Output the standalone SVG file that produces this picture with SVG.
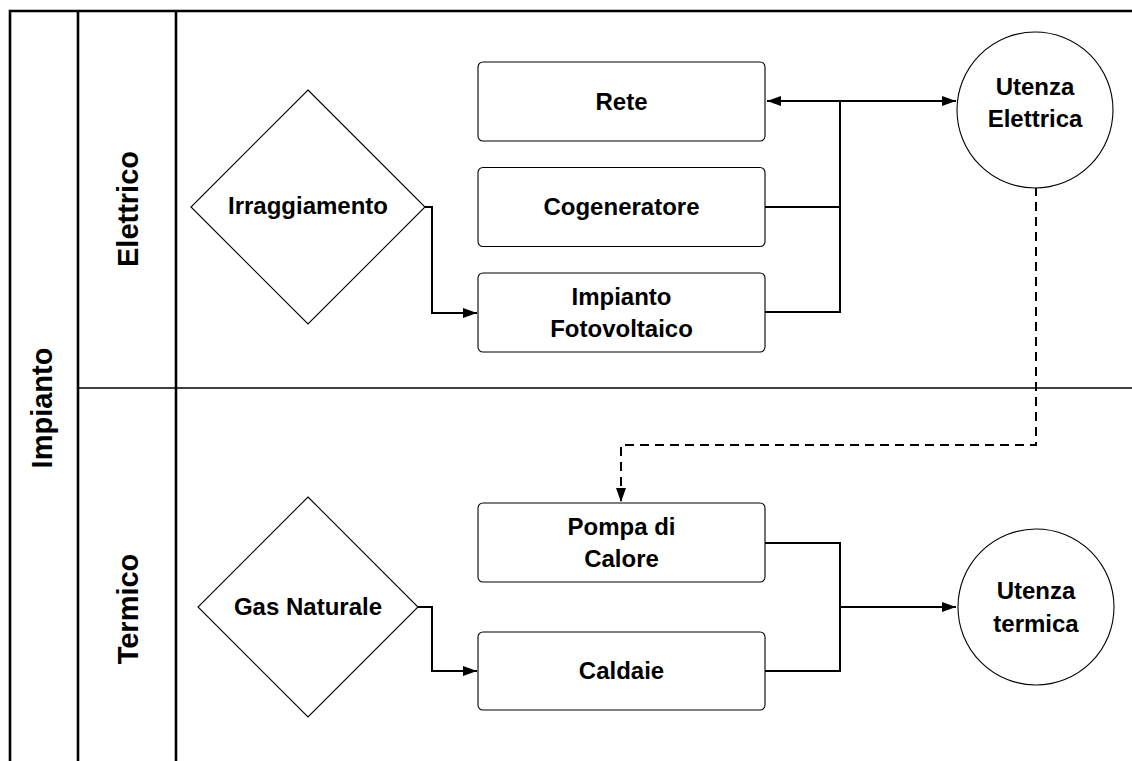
<svg xmlns="http://www.w3.org/2000/svg" width="1132" height="761" viewBox="0 0 1132 761">
<style>
.frame{fill:none;stroke:#000;stroke-width:2.6}
.div{fill:none;stroke:#000;stroke-width:1.6}
.box{fill:#fff;stroke:#000;stroke-width:1.1}
.conn{fill:none;stroke:#000;stroke-width:2}
.dash{fill:none;stroke:#000;stroke-width:2;stroke-dasharray:9,6}
.t{font-family:"Liberation Sans",Arial,sans-serif;font-weight:bold;font-size:24px;fill:#000;text-anchor:middle}
.lane{font-family:"Liberation Sans",Arial,sans-serif;font-weight:bold;font-size:29px;fill:#000;text-anchor:middle}
</style>
<defs>
<marker id="ah" viewBox="0 0 14 10" refX="14" refY="5" markerWidth="14" markerHeight="10" markerUnits="userSpaceOnUse" orient="auto-start-reverse">
<path d="M0,0 L14,5 L0,10 Z" fill="#000"/>
</marker>
</defs>
<rect width="1132" height="761" fill="#fff"/>
<g id="lanes">
<path class="frame" d="M10,761 V11 H1132 M78,11 V761 M176,11 V761"/>
<path class="div" d="M78,388 H1132"/>
<text class="lane" transform="translate(52,408) rotate(-90)">Impianto</text>
<text class="lane" transform="translate(138,209) rotate(-90)">Elettrico</text>
<text class="lane" transform="translate(138,609) rotate(-90)">Termico</text>
</g>
<g id="connectors">
<path class="conn" d="M840,101 H767" marker-end="url(#ah)"/>
<path class="conn" d="M840,101 H956" marker-end="url(#ah)"/>
<path class="conn" d="M765,207 H840 M765,312 H840 M840,101 V313"/>
<path class="conn" d="M425,207 H432 V313 H477" marker-end="url(#ah)"/>
<path class="conn" d="M417,607 H432 V671 H477" marker-end="url(#ah)"/>
<path class="conn" d="M765,543 H840 M765,671 H840 M840,542 V672"/>
<path class="conn" d="M840,607 H956" marker-end="url(#ah)"/>
<path class="dash" d="M1036,187 V445 H621 V502" marker-end="url(#ah)"/>
</g>
<g id="rete"><rect class="box" x="478" y="62" width="287" height="79" rx="5"/><text class="t" x="621.5" y="110">Rete</text></g>
<g id="cogeneratore"><rect class="box" x="478" y="167.5" width="287" height="79" rx="5"/><text class="t" x="621.5" y="215">Cogeneratore</text></g>
<g id="fotovoltaico"><rect class="box" x="478" y="273" width="287" height="79" rx="5"/><text class="t" x="621.5" y="305">Impianto</text><text class="t" x="621.5" y="337">Fotovoltaico</text></g>
<g id="irraggiamento"><path class="box" d="M308,90 L425,207 L308,324 L191,207 Z"/><text class="t" x="308" y="214">Irraggiamento</text></g>
<g id="utenza-elettrica"><circle class="box" cx="1035" cy="110" r="78"/><text class="t" x="1035" y="95">Utenza</text><text class="t" x="1035" y="127">Elettrica</text></g>
<g id="pompa"><rect class="box" x="478" y="503" width="287" height="79" rx="5"/><text class="t" x="621.5" y="535">Pompa di</text><text class="t" x="621.5" y="567">Calore</text></g>
<g id="caldaie"><rect class="box" x="478" y="632" width="287" height="78" rx="5"/><text class="t" x="621.5" y="679">Caldaie</text></g>
<g id="gas"><path class="box" d="M308,497 L418,607 L308,717 L198,607 Z"/><text class="t" x="308" y="615">Gas Naturale</text></g>
<g id="utenza-termica"><circle class="box" cx="1036" cy="607" r="78"/><text class="t" x="1036" y="599">Utenza</text><text class="t" x="1036" y="632">termica</text></g>
</svg>
